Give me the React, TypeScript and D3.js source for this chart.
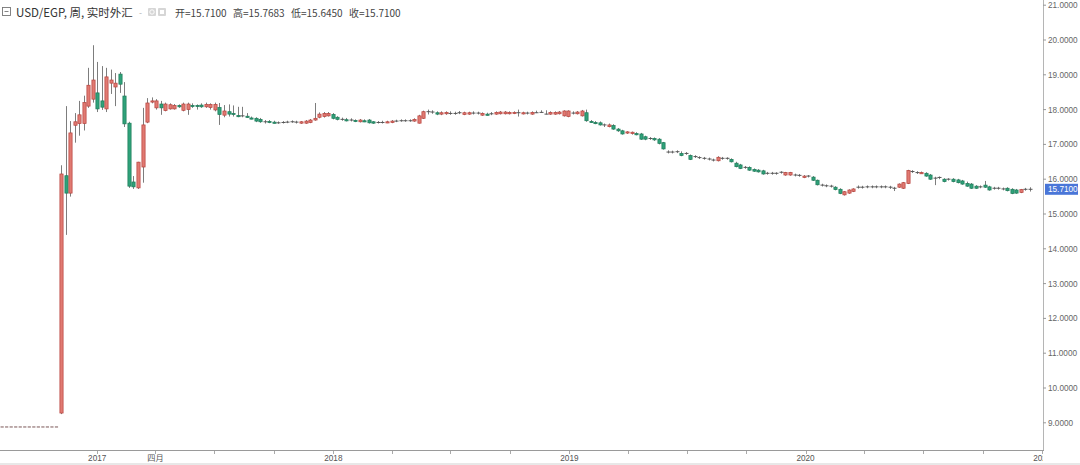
import React from "react";
import * as d3 from "d3";

// ---- DATA (weekly USD/EGP candles) ----
const firstWeek = "2016-11-06"; // week of the float (first post-float candle)
const preFloatCloses = [8.88, 8.88, 8.88, 8.88, 8.88, 8.88, 8.88, 8.88, 8.88, 8.88, 8.88, 8.88, 8.88];

const opens = [
  9.28, 16.1, 15.6, 17.55, 17.6, 17.6, 18.1, 18.3, 18.48, 18.25,
  18.02, 18.76, 18.65, 19.02, 18.39, 17.61, 15.92, 15.75, 16.35, 17.64,
  18.24, 18.05, 18.16, 17.97, 18.02, 18.02, 18.12, 17.98, 18.0, 18.12,
  18.12, 18.13, 18.08, 18.06, 17.99, 18.06, 17.84, 17.94, 17.89, 17.83,
  17.82, 17.81, 17.76, 17.75, 17.72, 17.65, 17.66, 17.64, 17.62, 17.63,
  17.64, 17.65, 17.64, 17.61, 17.61, 17.63, 17.7, 17.78, 17.8, 17.82,
  17.86, 17.78, 17.72, 17.71, 17.7, 17.69, 17.65, 17.68, 17.7, 17.65,
  17.63, 17.63, 17.64, 17.63, 17.67, 17.68, 17.68, 17.68, 17.67, 17.61,
  17.75, 17.94, 17.93, 17.91, 17.87, 17.88, 17.89, 17.89, 17.91, 17.86,
  17.87, 17.9, 17.9, 17.84, 17.87, 17.88, 17.87, 17.88, 17.88, 17.88,
  17.89, 17.91, 17.88, 17.9, 17.87, 17.91, 17.92, 17.87, 17.87, 17.87,
  17.88, 17.82, 17.8, 17.9, 17.88, 17.82, 17.91, 17.66, 17.63, 17.62,
  17.56, 17.51, 17.54, 17.44, 17.39, 17.33, 17.31, 17.31, 17.3, 17.22,
  17.17, 17.17, 17.15, 17.05, 16.78, 16.78, 16.79, 16.74, 16.74, 16.68,
  16.65, 16.62, 16.6, 16.58, 16.55, 16.53, 16.6, 16.6, 16.57, 16.46,
  16.41, 16.34, 16.34, 16.28, 16.26, 16.24, 16.17, 16.17, 16.17, 16.2,
  16.12, 16.12, 16.12, 16.11, 16.05, 16.09, 16.06, 15.97, 15.83, 15.81,
  15.8, 15.77, 15.71, 15.55, 15.6, 15.65, 15.77, 15.77, 15.78, 15.78,
  15.78, 15.78, 15.78, 15.77, 15.74, 15.77, 15.74, 15.88, 16.22, 16.19,
  16.18, 16.17, 16.12, 16.03, 16.05, 16.0, 16.0, 16.0, 15.98, 15.95,
  15.88, 15.86, 15.8, 15.78, 15.83, 15.78, 15.74, 15.74, 15.72, 15.74,
  15.71, 15.69, 15.62, 15.71, 15.71,
];
const highs = [
  16.4, 18.1, 17.67, 17.9, 18.25, 18.4, 19.2, 19.85, 19.37, 19.25,
  19.2, 19.15, 19.05, 19.08, 18.79, 17.65, 16.09, 16.5, 18.05, 18.33,
  18.35, 18.3, 18.25, 18.2, 18.18, 18.16, 18.15, 18.2, 18.2, 18.18,
  18.15, 18.18, 18.2, 18.18, 18.2, 18.19, 18.13, 18.15, 18.12, 18.08,
  18.08, 17.9, 17.8, 17.78, 17.76, 17.7, 17.7, 17.68, 17.66, 17.67,
  17.68, 17.69, 17.68, 17.67, 17.7, 17.73, 18.19, 17.92, 17.93, 17.93,
  17.9, 17.81, 17.77, 17.76, 17.75, 17.72, 17.73, 17.72, 17.73, 17.67,
  17.67, 17.68, 17.68, 17.7, 17.71, 17.72, 17.72, 17.72, 17.75, 17.85,
  17.97, 18.0, 17.98, 17.95, 17.95, 17.95, 17.95, 17.94, 17.96, 17.94,
  17.94, 17.95, 17.94, 17.92, 17.91, 17.93, 17.95, 17.96, 17.96, 17.95,
  17.95, 18.0, 17.94, 17.94, 17.95, 17.97, 17.98, 17.98, 17.95, 17.95,
  17.96, 17.98, 17.98, 17.95, 17.96, 17.99, 18.0, 17.7, 17.67, 17.66,
  17.6, 17.6, 17.58, 17.47, 17.42, 17.38, 17.37, 17.35, 17.33, 17.25,
  17.21, 17.2, 17.18, 17.07, 16.83, 16.82, 16.83, 16.8, 16.78, 16.71,
  16.69, 16.66, 16.64, 16.62, 16.59, 16.66, 16.64, 16.63, 16.6, 16.5,
  16.44, 16.38, 16.37, 16.31, 16.29, 16.27, 16.21, 16.21, 16.2, 16.23,
  16.21, 16.21, 16.16, 16.15, 16.12, 16.12, 16.09, 15.99, 15.87, 15.85,
  15.84, 15.8, 15.74, 15.66, 15.71, 15.74, 15.82, 15.81, 15.82, 15.82,
  15.82, 15.82, 15.82, 15.81, 15.78, 15.88, 15.92, 16.27, 16.26, 16.23,
  16.22, 16.2, 16.15, 16.07, 16.08, 16.03, 16.03, 16.03, 16.01, 15.98,
  15.93, 15.89, 15.83, 15.82, 15.95, 15.81, 15.78, 15.78, 15.76, 15.77,
  15.74, 15.72, 15.72, 15.75, 15.7683,
];
const lows = [
  9.25, 14.4, 15.5, 17.05, 17.25, 17.4, 18.05, 18.2, 17.93, 17.99,
  17.93, 18.45, 18.1, 18.48, 17.5, 15.75, 15.72, 15.72, 15.9, 17.61,
  18.18, 18.0, 17.85, 17.95, 18.0, 18.0, 18.05, 17.95, 17.85, 18.05,
  18.0, 18.05, 18.05, 18.0, 17.95, 17.56, 17.78, 17.8, 17.8, 17.78,
  17.78, 17.76, 17.72, 17.64, 17.62, 17.6, 17.61, 17.6, 17.59, 17.6,
  17.61, 17.62, 17.6, 17.59, 17.59, 17.61, 17.68, 17.75, 17.77, 17.8,
  17.72, 17.69, 17.68, 17.66, 17.66, 17.64, 17.63, 17.64, 17.6, 17.59,
  17.6, 17.6, 17.61, 17.61, 17.64, 17.65, 17.65, 17.65, 17.65, 17.6,
  17.73, 17.86, 17.88, 17.84, 17.84, 17.85, 17.85, 17.85, 17.87, 17.84,
  17.85, 17.86, 17.86, 17.82, 17.83, 17.84, 17.85, 17.86, 17.86, 17.86,
  17.87, 17.8, 17.86, 17.86, 17.85, 17.9, 17.91, 17.86, 17.85, 17.85,
  17.86, 17.8, 17.78, 17.86, 17.86, 17.8, 17.65, 17.62, 17.58, 17.54,
  17.5, 17.49, 17.42, 17.36, 17.28, 17.3, 17.28, 17.26, 17.13, 17.12,
  17.13, 17.1, 17.0, 16.85, 16.74, 16.74, 16.75, 16.66, 16.7, 16.55,
  16.61, 16.58, 16.56, 16.54, 16.51, 16.51, 16.56, 16.56, 16.48, 16.34,
  16.29, 16.3, 16.24, 16.21, 16.19, 16.13, 16.13, 16.13, 16.13, 16.16,
  16.1, 16.1, 16.08, 16.07, 16.03, 16.05, 15.95, 15.82, 15.79, 15.77,
  15.76, 15.68, 15.57, 15.53, 15.58, 15.63, 15.73, 15.73, 15.74, 15.74,
  15.74, 15.74, 15.74, 15.72, 15.66, 15.75, 15.72, 15.86, 16.18, 16.15,
  16.15, 16.07, 15.98, 15.83, 16.0, 15.91, 15.96, 15.91, 15.88, 15.84,
  15.78, 15.72, 15.72, 15.74, 15.75, 15.67, 15.7, 15.7, 15.68, 15.65,
  15.57, 15.58, 15.6, 15.67, 15.645,
];
const closes = [
  16.15, 15.6, 17.33, 17.65, 17.85, 18.2, 18.7, 18.85, 18.02, 18.07,
  18.94, 18.85, 18.76, 18.73, 17.59, 15.8, 15.78, 16.49, 17.56, 18.19,
  18.25, 18.25, 18.05, 18.16, 18.14, 18.12, 18.08, 18.16, 18.16, 18.11,
  18.1, 18.08, 18.15, 18.15, 18.15, 17.86, 17.96, 17.87, 17.88, 17.82,
  17.82, 17.8, 17.75, 17.67, 17.65, 17.65, 17.65, 17.63, 17.62, 17.63,
  17.64, 17.65, 17.64, 17.65, 17.67, 17.7, 17.75, 17.87, 17.89, 17.89,
  17.75, 17.72, 17.72, 17.7, 17.7, 17.68, 17.7, 17.67, 17.62, 17.61,
  17.63, 17.63, 17.65, 17.67, 17.67, 17.68, 17.68, 17.68, 17.72, 17.82,
  17.94, 17.94, 17.93, 17.87, 17.91, 17.92, 17.89, 17.89, 17.91, 17.91,
  17.91, 17.9, 17.9, 17.89, 17.86, 17.88, 17.92, 17.93, 17.93, 17.92,
  17.92, 17.91, 17.91, 17.9, 17.92, 17.91, 17.92, 17.87, 17.92, 17.92,
  17.93, 17.96, 17.96, 17.9, 17.93, 17.96, 17.68, 17.65, 17.62, 17.56,
  17.56, 17.56, 17.44, 17.39, 17.3, 17.36, 17.35, 17.3, 17.15, 17.15,
  17.17, 17.13, 17.03, 16.87, 16.78, 16.78, 16.79, 16.68, 16.74, 16.57,
  16.65, 16.62, 16.6, 16.58, 16.55, 16.63, 16.6, 16.6, 16.5, 16.36,
  16.31, 16.34, 16.26, 16.23, 16.21, 16.15, 16.17, 16.17, 16.17, 16.2,
  16.19, 16.19, 16.12, 16.11, 16.09, 16.09, 15.97, 15.84, 15.83, 15.81,
  15.8, 15.7, 15.59, 15.64, 15.69, 15.72, 15.77, 15.77, 15.78, 15.78,
  15.78, 15.78, 15.78, 15.77, 15.74, 15.86, 15.9, 16.25, 16.22, 16.19,
  16.19, 16.09, 16.0, 16.03, 16.05, 15.93, 16.0, 15.93, 15.9, 15.86,
  15.8, 15.74, 15.74, 15.78, 15.77, 15.69, 15.74, 15.74, 15.72, 15.67,
  15.59, 15.6, 15.7, 15.71, 15.71,
];

const yTicks = [9, 10, 11, 12, 13, 14, 15, 16, 17, 18, 19, 20, 21];
const xTickLabels: [string, string][] = [
  ["2017-01-01", "2017"],
  ["2017-04-01", "四月"],
  ["2018-01-01", "2018"],
  ["2019-01-01", "2019"],
  ["2020-01-01", "2020"],
  ["2021-01-01", "2021"],
];
const headerTitle = "USD/EGP, 周, 实时外汇";
const headerValues = ["开=15.7100", "高=15.7683", "低=15.6450", "收=15.7100"];
const lastPrice = 15.71;

// ---- LAYOUT ----
const W = 1080;
const H = 465;
const axisX = 1043;
const axisY = 450;
const UP_FILL = "#e07a72";
const UP_STROKE = "#b8423c";
const DN_FILL = "#2fa27a";
const DN_STROKE = "#1c7a58";
const WICK = "#7d7d7d";

function weekDate(i: number): Date {
  const d = new Date(firstWeek + "T00:00:00");
  d.setDate(d.getDate() + 7 * i);
  return d;
}

export default function App() {
  const n = closes.length;
  const x = d3
    .scaleTime()
    .domain([weekDate(0), weekDate(n - 1)])
    .range([61, 1030]);
  const y = d3.scaleLinear().domain([9, 21]).range([422.8, 5.2]);

  const candles = closes.map((c, i) => ({
    date: weekDate(i),
    o: opens[i],
    h: highs[i],
    l: lows[i],
    c,
  }));
  const pre = preFloatCloses.map((v, k) => ({
    date: weekDate(k - preFloatCloses.length),
    v,
  }));

  const quarterTicks = d3.timeMonth
    .every(3)!
    .range(new Date(2017, 0, 1), new Date(2021, 0, 2));

  const bw = 3.2;
  const font = "'Liberation Sans', Arial, sans-serif";
  const cjk = "'Noto Sans CJK SC', 'Liberation Sans', sans-serif";

  return (
    <svg
      width={W}
      height={H}
      style={{ position: "absolute", left: 0, top: 0, background: "#fff" }}
    >
      <defs>
        <clipPath id="plotclip">
          <rect x={0} y={0} width={axisX} height={H} />
        </clipPath>
      </defs>
      <rect x={0} y={0} width={W} height={H} fill="#fff" />

      {/* pre-float flat weeks */}
      {pre.map((p, k) => (
        <line
          key={"p" + k}
          x1={x(p.date) - 1.6}
          x2={x(p.date) + 1.6}
          y1={y(p.v)}
          y2={y(p.v)}
          stroke="#7a5656"
          strokeWidth={1}
        />
      ))}

      {/* candles */}
      {candles.map((d, i) => {
        const cx = Math.round(x(d.date)) + 0.5;
        const up = d.c > d.o;
        const flat = Math.abs(d.c - d.o) < 0.008;
        const top = y(Math.max(d.o, d.c));
        const bot = y(Math.min(d.o, d.c));
        return (
          <g key={i}>
            <line x1={cx} x2={cx} y1={y(d.h)} y2={y(d.l)} stroke={WICK} strokeWidth={1} />
            {flat ? (
              <line
                x1={cx - 2}
                x2={cx + 2}
                y1={y(d.c)}
                y2={y(d.c)}
                stroke="#555"
                strokeWidth={1}
              />
            ) : (
              <rect
                x={cx - bw / 2}
                y={top}
                width={bw}
                height={Math.max(1.2, bot - top)}
                fill={up ? UP_FILL : DN_FILL}
                stroke={up ? UP_STROKE : DN_STROKE}
                strokeWidth={0.7}
              />
            )}
          </g>
        );
      })}

      {/* price axis */}
      <line x1={axisX + 0.5} x2={axisX + 0.5} y1={0} y2={axisY} stroke="#b5b5b5" strokeWidth={1} />
      {yTicks.map((t) => (
        <g key={t}>
          <line x1={axisX} x2={axisX + 3} y1={y(t)} y2={y(t)} stroke="#999" />
          <text
            x={axisX + 5}
            y={y(t) + 3}
            fontSize={8.2}
            fontFamily={font}
            fill="#666"
          >
            {t.toFixed(4)}
          </text>
        </g>
      ))}
      <rect x={axisX + 2} y={y(lastPrice) - 5.5} width={W - axisX - 4} height={11} fill="#4a76d8" />
      <text
        x={axisX + 5}
        y={y(lastPrice) + 3}
        fontSize={8.2}
        fontFamily={font}
        fill="#fff"
      >
        {lastPrice.toFixed(4)}
      </text>

      {/* time axis */}
      <line x1={0} x2={axisX + 1} y1={axisY + 0.5} y2={axisY + 0.5} stroke="#9a9a9a" strokeWidth={1} />
      {quarterTicks.map((q, k) => (
        <line
          key={k}
          x1={Math.round(x(q)) + 0.5}
          x2={Math.round(x(q)) + 0.5}
          y1={axisY + 1}
          y2={axisY + 4}
          stroke="#aaa"
        />
      ))}
      <g clipPath="url(#plotclip)">
        {xTickLabels.map(([ds, lbl]) => (
          <text
            key={ds}
            x={x(new Date(ds + "T00:00:00"))}
            y={axisY + 11}
            fontSize={8.2}
            fontFamily={lbl === "四月" ? cjk : font}
            fill="#555"
            textAnchor="middle"
          >
            {lbl}
          </text>
        ))}
      </g>
      <rect x={0} y={H - 2} width={W} height={2} fill="#e8e8e8" />

      {/* header */}
      <rect x={2.5} y={7.5} width={8} height={8} fill="none" stroke="#777" strokeWidth={0.9} />
      <line x1={4.5} x2={8.5} y1={11.5} y2={11.5} stroke="#777" strokeWidth={0.9} />
      <text x={16} y={16.5} fontSize={11.5} fontFamily={cjk} fill="#333">
        {headerTitle}
      </text>
      <text x={139} y={15.5} fontSize={9} fontFamily={font} fill="#bbb">
        -
      </text>
      <rect x={148} y={8} width={8} height={8} fill="#d6d6d6" rx={1} />
      <circle cx={152} cy={12} r={2.2} fill="none" stroke="#fff" strokeWidth={0.9} />
      <rect x={158} y={8} width={8} height={8} fill="#d6d6d6" rx={1} />
      <rect x={160} y={10} width={4} height={4} fill="#fff" />
      {headerValues.map((s, k) => (
        <text
          key={s}
          x={175 + k * 58}
          y={16.5}
          fontSize={10}
          fontFamily={cjk}
          fill="#444"
        >
          {s}
        </text>
      ))}
    </svg>
  );
}
